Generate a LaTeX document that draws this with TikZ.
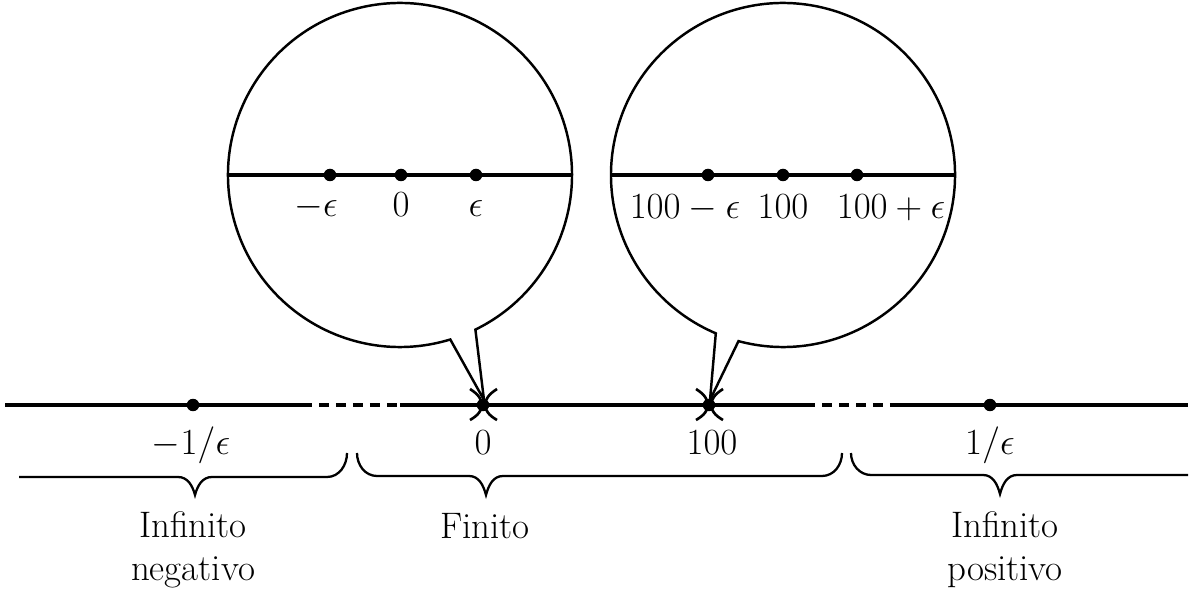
\RequirePackage{fix-cm}
\documentclass[tikz,border=0pt]{standalone}
\usepackage{amsmath}
\usetikzlibrary{positioning,calc}

\begin{document}
\begin{tikzpicture}[
    x=0.02cm, y=0.02cm,
    dot/.style={circle, fill=black, inner sep=0pt, minimum size=0.25cm},
    lbl/.style={font=\fontsize{21}{24}\selectfont, inner sep=0pt, anchor=base},
    zone/.style={font=\fontsize{21}{24.4}\selectfont, align=center, inner sep=0pt},
    axis/.style={line width=1.9pt},
    gap/.style={line width=1.9pt, dash pattern=on 0.2cm off 0.14cm},
    lens/.style={line width=1.4pt},
    pinch/.style={line width=1.5pt},
    curly/.style={line width=1.3pt}
]

\useasboundingbox (0,-193) rectangle (1193,405);

% Main line
\node[dot] (ml) at (193,0) {};
\node[dot] (m0) at (483,0) {};
\node[dot] (m100) at (709,0) {};
\node[dot] (mr) at (990,0) {};
\coordinate (a0) at (5,0);
\coordinate (a1) at (302,0);
\coordinate (a2) at (400,0);
\coordinate (a3) at (805,0);
\coordinate (a4) at (900,0);
\coordinate (a5) at (1188,0);
\draw[axis] (a0) -- (a1) (a2) -- (a3) (a4) -- (a5);
\draw[gap] (a1) -- (a2) (a3) -- (a4);

% Pinch marks
\draw[pinch] (470,16) .. controls (486,6) and (486,-6) .. (470,-15);
\draw[pinch] (497,16) .. controls (481,6) and (481,-6) .. (497,-15);
\draw[pinch] (696,16) .. controls (712,6) and (712,-6) .. (696,-15);
\draw[pinch] (723,16) .. controls (707,6) and (707,-6) .. (723,-15);

% Labels on the line
\node[lbl] (tml) at (191,-50) {$-1/\epsilon$};
\node[lbl] (tm0) at (483,-50) {$0$};
\node[lbl] (tm100) at (712,-50) {$100$};
\node[lbl] (tmr) at (990,-50) {$1/\epsilon$};

% Left magnifier
\coordinate (cL) at (400,230);
\coordinate (tipL) at (484,5);
\draw[lens] (tipL) -- ($(cL)+(-73:172)$) arc[start angle=-73, end angle=-424, radius=172] -- (tipL);
\draw[axis] ($(cL)+(-172,0)$) -- ($(cL)+(172,0)$);
\node[dot] (l1) at (330,230) {};
\node[dot] (l2) at (401,230) {};
\node[dot] (l3) at (476,230) {};
\node[lbl] (tl1) at (316,188) {$-\epsilon$};
\node[lbl] (tl2) at (401,188) {$0$};
\node[lbl] (tl3) at (476,188) {$\epsilon$};

% Right magnifier
\coordinate (cR) at (783,230);
\coordinate (tipR) at (710,5);
\draw[lens] (tipR) -- ($(cR)+(255:172)$) arc[start angle=255, end angle=607, radius=172] -- (tipR);
\draw[axis] ($(cR)+(-172,0)$) -- ($(cR)+(172,0)$);
\node[dot] (r1) at (708,230) {};
\node[dot] (r2) at (783,230) {};
\node[dot] (r3) at (857,230) {};
\node[lbl] (tr1) at (685,186) {$100-\epsilon$};
\node[lbl] (tr2) at (783,186) {$100$};
\node[lbl] (tr3) at (891,186) {$100+\epsilon$};

% Braces
\draw[curly] (19,-72) -- (178,-72) to[out=0,in=105] (195,-90)
    to[out=75,in=180] (212,-72) -- (327,-72) to[out=0,in=-90] (347,-48);
\draw[curly] (357,-48) to[out=-90,in=180] (377,-71) -- (469,-71)
    to[out=0,in=105] (486,-90) to[out=75,in=180] (503,-71) -- (822,-71)
    to[out=0,in=-90] (842,-48);
\draw[curly] (851,-48) to[out=-90,in=180] (871,-70) -- (983,-70)
    to[out=0,in=105] (1000,-89) to[out=75,in=180] (1017,-70) -- (1188,-70);

% Zone labels
\node[zone] (zneg) at (193,-145) {Infinito\\negativo};
\node[zone] (zfin) at (485,-121) {Finito};
\node[zone] (zpos) at (1005,-145) {Infinito\\positivo};

\end{tikzpicture}
\end{document}
